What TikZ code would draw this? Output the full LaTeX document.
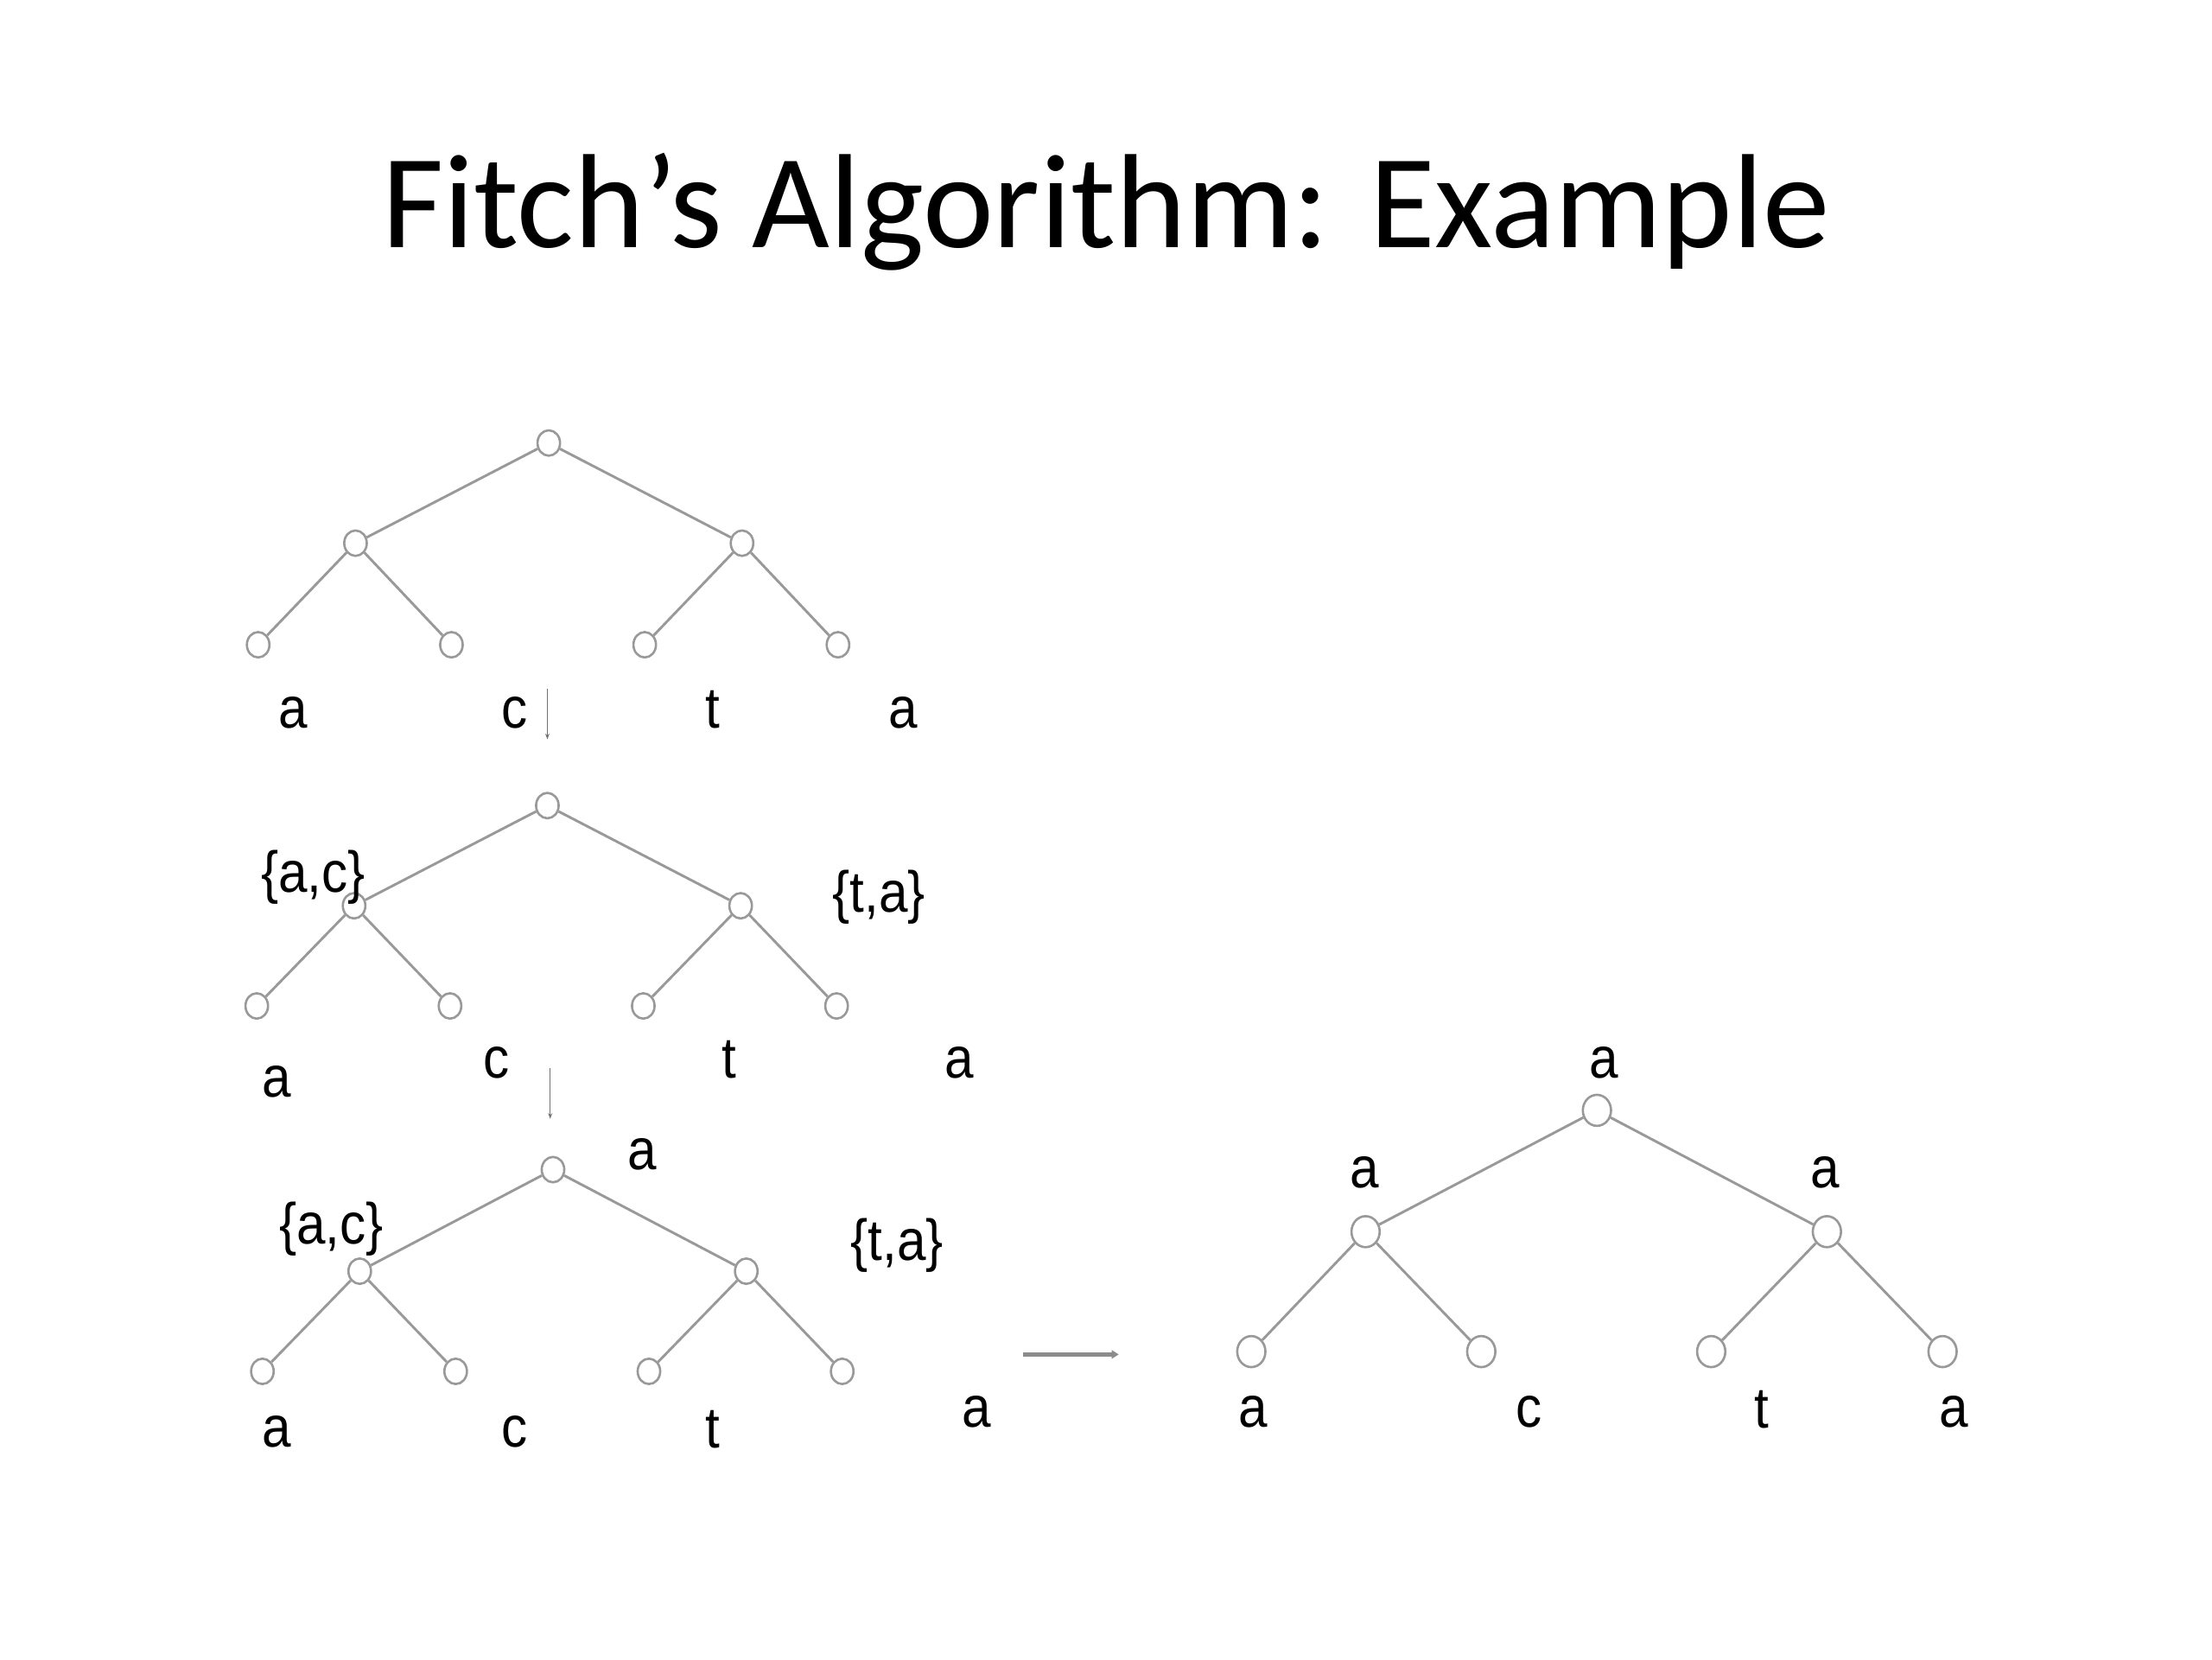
\documentclass[tikz,border=0pt]{standalone}
\usepackage{fontspec}
\setmainfont{Liberation Sans}
\newfontfamily\titlefont{Carlito}
\newfontfamily\lblfont[FakeStretch=0.9]{Liberation Sans}
\usetikzlibrary{shapes.geometric,arrows.meta}
\begin{document}
\begin{tikzpicture}[x=1pt,y=-1pt,
  tn/.style={ellipse,draw=black!40,fill=white,line width=1.6pt,minimum width=16pt,minimum height=18pt,inner sep=0pt},
  bn/.style={tn,minimum width=20pt,minimum height=22pt},
  edge/.style={draw=black!40,line width=1.8pt},
  lbl/.style={font=\lblfont\fontsize{41}{43}\selectfont,inner sep=0pt},
  thinarrow/.style={draw=black!55,line width=0.9pt,-{Stealth[length=4pt,width=3pt]}},
  bigarrow/.style={draw=black!45,line width=3pt,-{Triangle[length=5pt,width=6pt]}}
]
\useasboundingbox (0,0) rectangle (1568,1176);
\node[font=\titlefont\fontsize{95}{100}\selectfont,inner sep=0pt] (title) at (784,150) {Fitch’s Algorithm: Example};

% Tree 1
\node[tn] (t1r) at (389,314) {};
\node[tn] (t1l) at (252,385) {};
\node[tn] (t1m) at (526,385) {};
\node[tn] (t1a) at (183,457) {};
\node[tn] (t1b) at (320,457) {};
\node[tn] (t1c) at (457,457) {};
\node[tn] (t1d) at (594,457) {};
\draw[edge] (t1r) -- (t1l); \draw[edge] (t1r) -- (t1m);
\draw[edge] (t1l) -- (t1a); \draw[edge] (t1l) -- (t1b);
\draw[edge] (t1m) -- (t1c); \draw[edge] (t1m) -- (t1d);
\node[lbl] (t1la) at (208,505) {a};
\node[lbl] (t1lb) at (365,505) {c};
\node[lbl] (t1lc) at (505,503) {t};
\node[lbl] (t1ld) at (640,505) {a};
\coordinate (ar1s) at (388,488);
\coordinate (ar1e) at (388,524);
\draw[thinarrow] (ar1s) -- (ar1e);

% Tree 2
\node[tn] (t2r) at (388,571) {};
\node[tn] (t2l) at (251,642) {};
\node[tn] (t2m) at (525,642) {};
\node[tn] (t2a) at (182,713) {};
\node[tn] (t2b) at (319,713) {};
\node[tn] (t2c) at (456,713) {};
\node[tn] (t2d) at (593,713) {};
\draw[edge] (t2r) -- (t2l); \draw[edge] (t2r) -- (t2m);
\draw[edge] (t2l) -- (t2a); \draw[edge] (t2l) -- (t2b);
\draw[edge] (t2m) -- (t2c); \draw[edge] (t2m) -- (t2d);
\node[lbl] (t2sl) at (222,622) {\{a,c\}};
\node[lbl] (t2sr) at (623,636) {\{t,a\}};
\node[lbl] (t2la) at (196,767) {a};
\node[lbl] (t2lb) at (352,753) {c};
\node[lbl] (t2lc) at (517,751) {t};
\node[lbl] (t2ld) at (680,753) {a};
\coordinate (ar2s) at (390,757);
\coordinate (ar2e) at (390,793);
\draw[thinarrow] (ar2s) -- (ar2e);

% Tree 3
\node[tn] (t3r) at (392,829) {};
\node[tn] (t3l) at (255,901) {};
\node[tn] (t3m) at (529,901) {};
\node[tn] (t3a) at (186,972) {};
\node[tn] (t3b) at (323,972) {};
\node[tn] (t3c) at (460,972) {};
\node[tn] (t3d) at (597,972) {};
\draw[edge] (t3r) -- (t3l); \draw[edge] (t3r) -- (t3m);
\draw[edge] (t3l) -- (t3a); \draw[edge] (t3l) -- (t3b);
\draw[edge] (t3m) -- (t3c); \draw[edge] (t3m) -- (t3d);
\node[lbl] (t3top) at (455,818) {a};
\node[lbl] (t3sl) at (235,871) {\{a,c\}};
\node[lbl] (t3sr) at (636,883) {\{t,a\}};
\node[lbl] (t3la) at (196,1015) {a};
\node[lbl] (t3lb) at (365,1015) {c};
\node[lbl] (t3lc) at (505,1013) {t};
\node[lbl] (t3ld) at (692,1001) {a};
\coordinate (ar3s) at (725,960);
\coordinate (ar3e) at (793,960);
\draw[bigarrow] (ar3s) -- (ar3e);

% Tree 4
\node[bn] (t4r) at (1132,787) {};
\node[bn] (t4l) at (968,873) {};
\node[bn] (t4m) at (1295,873) {};
\node[bn] (t4a) at (887,958) {};
\node[bn] (t4b) at (1050,958) {};
\node[bn] (t4c) at (1213,958) {};
\node[bn] (t4d) at (1377,958) {};
\draw[edge] (t4r) -- (t4l); \draw[edge] (t4r) -- (t4m);
\draw[edge] (t4l) -- (t4a); \draw[edge] (t4l) -- (t4b);
\draw[edge] (t4m) -- (t4c); \draw[edge] (t4m) -- (t4d);
\node[lbl] (t4top) at (1137,753) {a};
\node[lbl] (t4sl) at (967,831) {a};
\node[lbl] (t4sr) at (1294,831) {a};
\node[lbl] (t4la) at (888,1001) {a};
\node[lbl] (t4lb) at (1084,1001) {c};
\node[lbl] (t4lc) at (1249,999) {t};
\node[lbl] (t4ld) at (1385,1001) {a};
\end{tikzpicture}
\end{document}
